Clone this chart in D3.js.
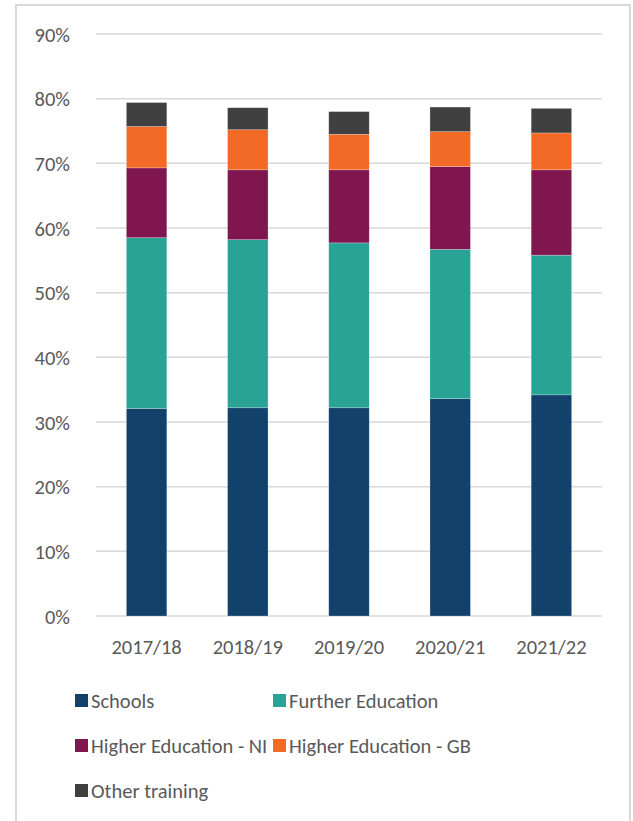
<!DOCTYPE html>
<html lang="en">
<head>
	<meta charset="utf-8"/>
	<title>Destinations of school leavers</title>
	<script src="https://d3js.org/d3.v7.min.js" charset="utf-8"></script>
	<style>
		body { margin: 0; background: #fff; }
		.axis .domain { display: none; }
		.axis .tick line { display: none; }
		.axis text { fill: #595959; font-family: Calibri, Carlito, Lato, sans-serif; font-size: 20.5px; }
		.legend text { fill: #595959; font-family: Calibri, Carlito, Lato, sans-serif; font-size: 20.5px; }
	</style>
</head>
<body>
<div id="chart"></div>

<script>
	// chart data (percent of leavers)
	var years = ["2017/18", "2018/19", "2019/20", "2020/21", "2021/22"];
	var seriesNames = ["Schools", "Further Education", "Higher Education - NI", "Higher Education - GB", "Other training"];
	var schools = [32.1, 32.2, 32.2, 33.6, 34.2];
	var furtherEd = [26.4, 26.0, 25.5, 23.1, 21.6];
	var higherNI = [10.8, 10.8, 11.3, 12.8, 13.2];
	var higherGB = [6.4, 6.2, 5.5, 5.4, 5.7];
	var otherTraining = [3.7, 3.4, 3.5, 3.8, 3.8];
	var yTicks = [0, 10, 20, 30, 40, 50, 60, 70, 80, 90];

	var width = 633,
		height = 821;

	var svg = d3.select("#chart").append("svg")
		.attr("width", width)
		.attr("height", height);

	// outer frame
	svg.append("rect")
		.attr("x", 16)
		.attr("y", 5)
		.attr("width", 614)
		.attr("height", height)
		.attr("fill", "none")
		.attr("stroke", "#d9d9d9")
		.attr("stroke-width", 2);

	var m = {top: 34, left: 96, right: 31, bottom: 205};
	var plotW = width - m.left - m.right,
		plotH = height - m.top - m.bottom;

	var g = svg.append("g").attr("transform", "translate(" + m.left + "," + m.top + ")");

	var x = d3.scaleBand()
		.domain(years)
		.range([0, plotW])
		.paddingInner(0.6)
		.paddingOuter(0.3);

	var y = d3.scaleLinear()
		.domain([0, 90])
		.range([plotH, 0]);

	var color = d3.scaleOrdinal()
		.domain(seriesNames)
		.range(["#12416b", "#28a396", "#7f1650", "#f26a25", "#404040"]);

	// build rows for the stack
	var cols = [schools, furtherEd, higherNI, higherGB, otherTraining];
	var rows = years.map(function(yr, i) {
		var r = {year: yr};
		seriesNames.forEach(function(s, j) { r[s] = cols[j][i]; });
		return r;
	});

	// gridlines
	g.append("g")
		.selectAll("line")
		.data(yTicks)
		.enter().append("line")
		.attr("x1", 0)
		.attr("x2", plotW)
		.attr("y1", function(d) { return y(d); })
		.attr("y2", function(d) { return y(d); })
		.attr("stroke", "#d9d9d9")
		.attr("stroke-width", 1.5);

	var stack = d3.stack().keys(seriesNames);

	g.append("g")
		.selectAll("g")
		.data(stack(rows))
		.enter().append("g")
		.attr("fill", function(d) { return color(d.key); })
		.selectAll("rect")
		.data(function(d) { return d; })
		.enter().append("rect")
		.attr("x", function(d) { return x(d.data.year); })
		.attr("y", function(d) { return y(d[1]); })
		.attr("height", function(d) { return y(d[0]) - y(d[1]); })
		.attr("width", x.bandwidth())
		.attr("stroke", "#ffffff")
		.attr("stroke-opacity", 0.4)
		.attr("stroke-width", 0.6);

	g.append("g")
		.attr("class", "axis")
		.attr("transform", "translate(-23,0)")
		.call(d3.axisLeft(y).tickValues(yTicks).tickSize(0).tickFormat(function(d) { return d + "%"; }))
		.selectAll("text")
		.attr("dy", "0.35em");

	g.append("g")
		.attr("class", "axis")
		.attr("transform", "translate(0," + plotH + ")")
		.call(d3.axisBottom(x).tickSize(0).tickPadding(23));

	// legend
	var legendPos = [[75, 701], [273, 701], [75, 746], [273, 746], [75, 791]];
	var legend = svg.append("g")
		.attr("class", "legend")
		.selectAll("g")
		.data(seriesNames)
		.enter().append("g")
		.attr("transform", function(d, i) { return "translate(" + legendPos[i][0] + "," + legendPos[i][1] + ")"; });

	legend.append("rect")
		.attr("x", 0)
		.attr("y", -7)
		.attr("width", 13)
		.attr("height", 13)
		.attr("fill", color);

	legend.append("text")
		.attr("x", 16)
		.attr("y", 0)
		.attr("dy", "0.35em")
		.text(function(d) { return d; });
</script>
</body>
</html>
